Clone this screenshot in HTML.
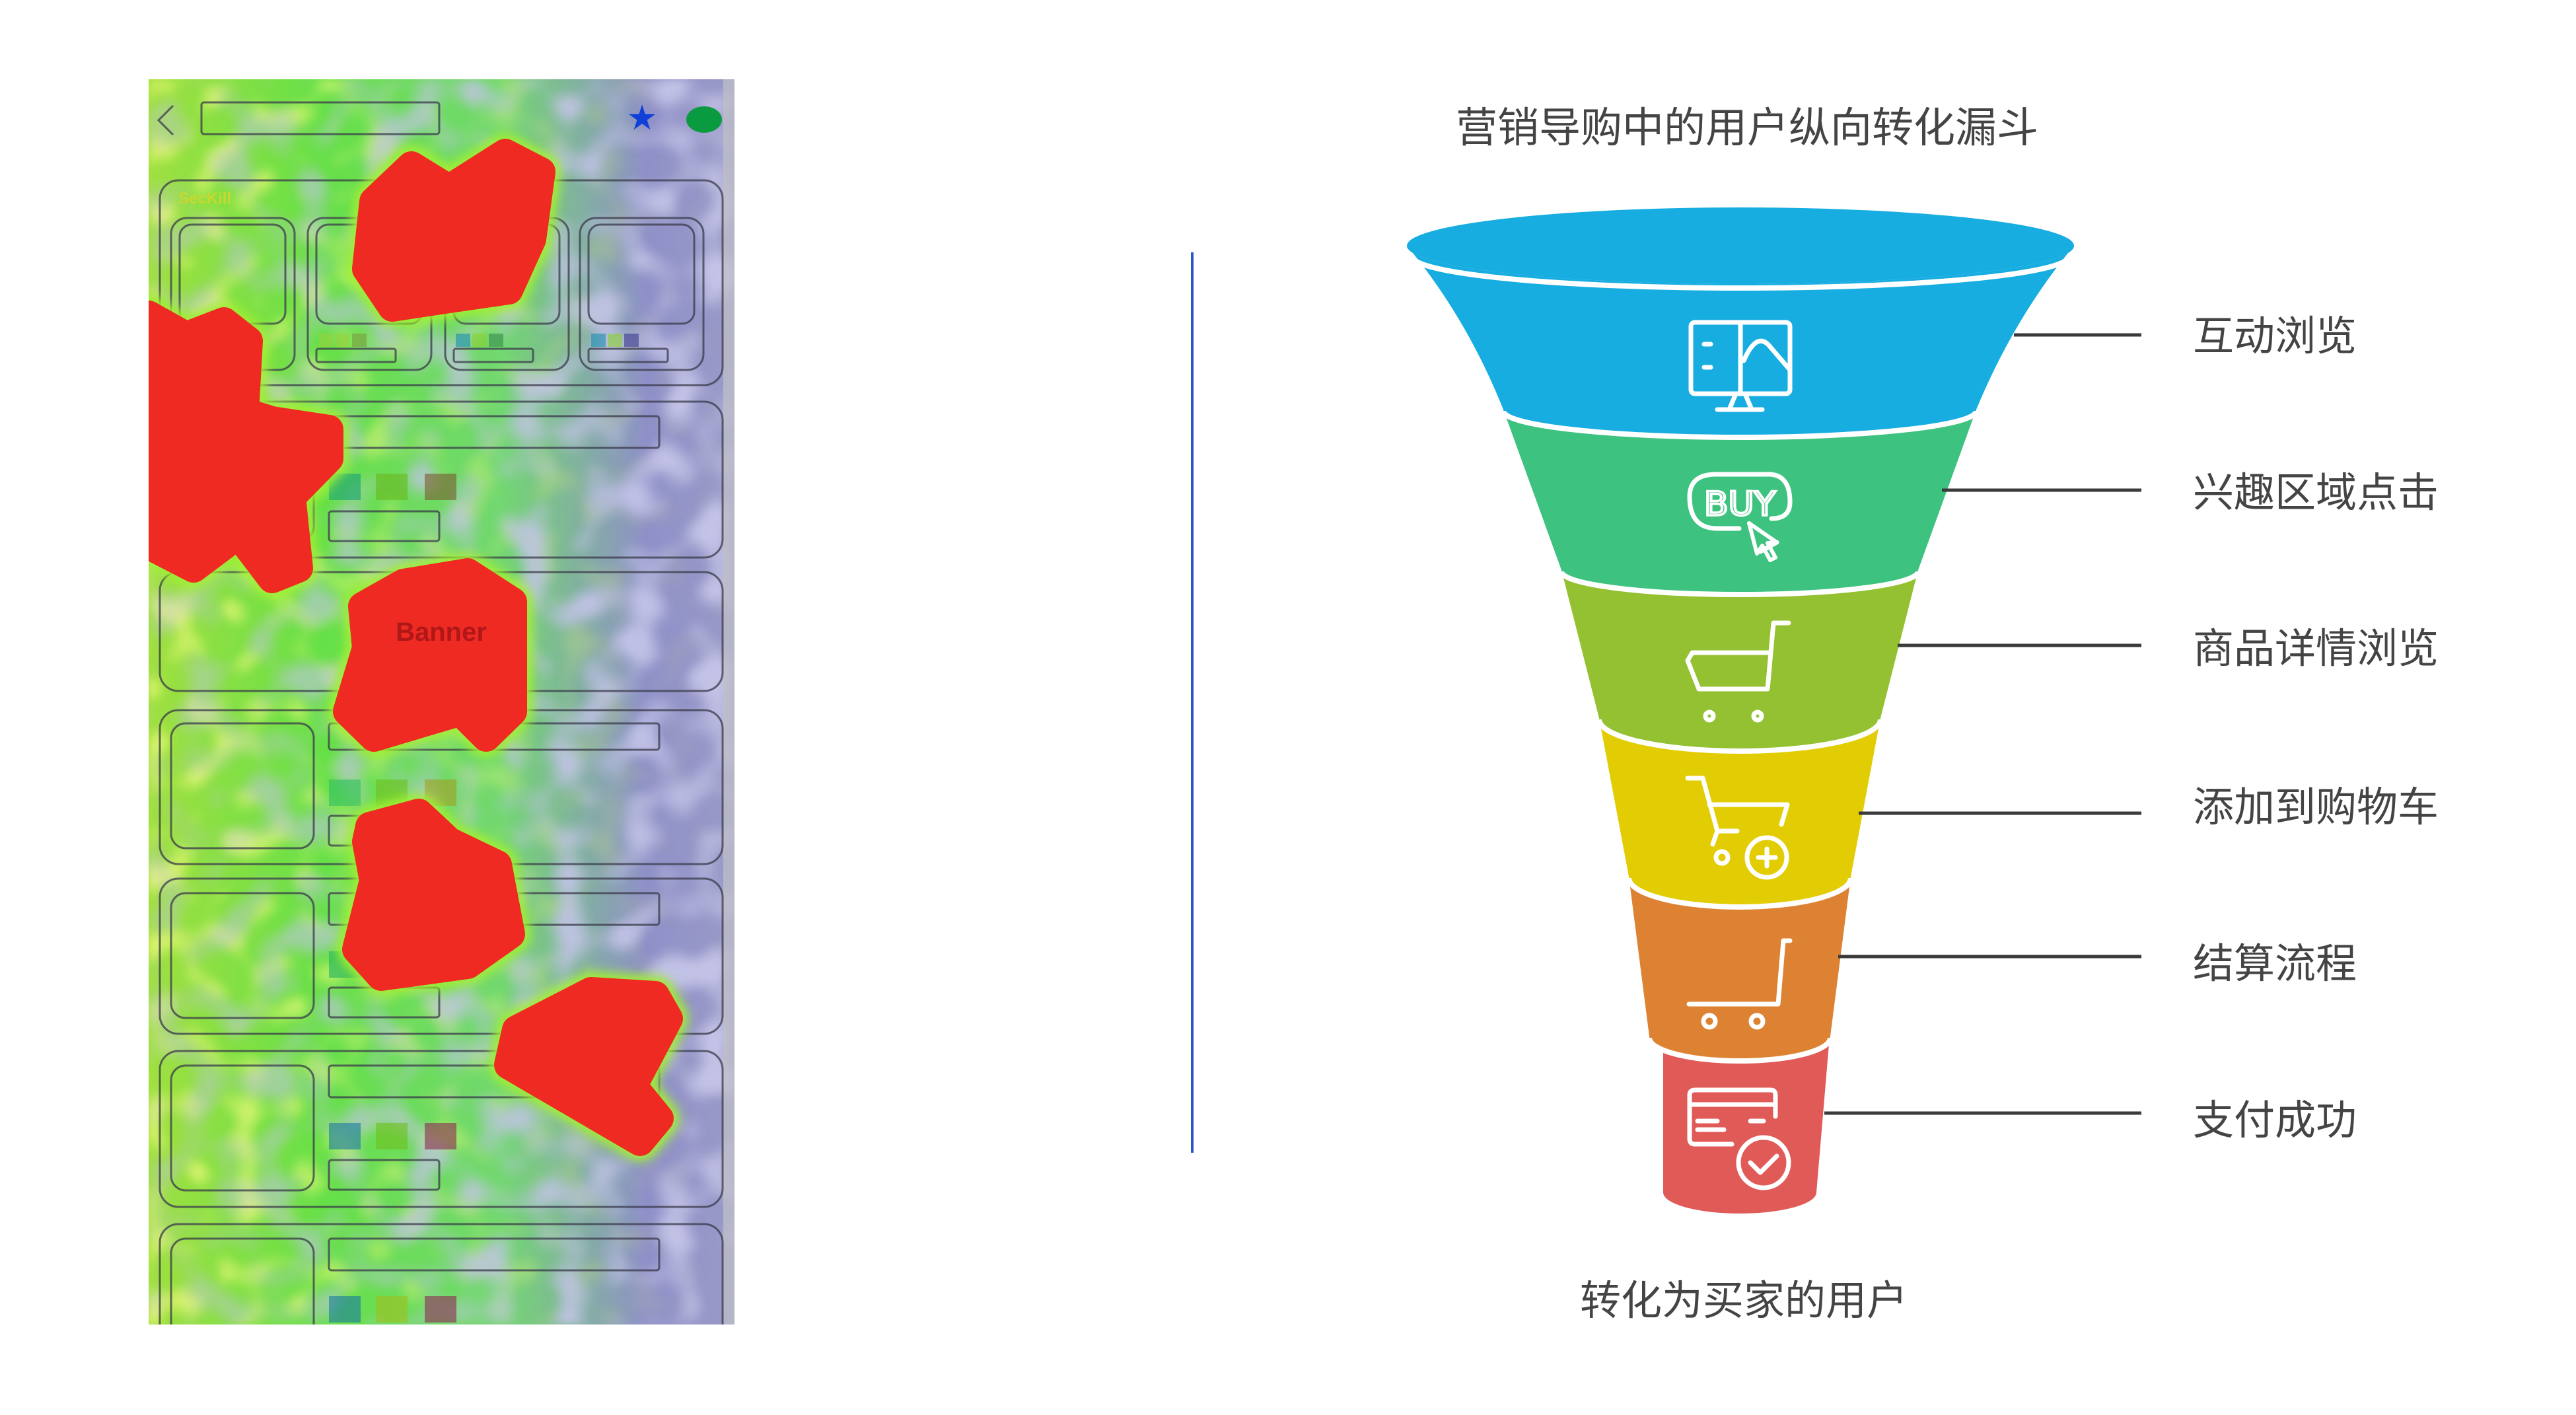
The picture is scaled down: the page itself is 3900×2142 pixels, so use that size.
<!DOCTYPE html>
<html><head><meta charset="utf-8"><style>
html,body{margin:0;padding:0;background:#fff;width:3900px;height:2142px;overflow:hidden}
svg{display:block}
</style></head><body>
<svg width="3900" height="2142" viewBox="0 0 3900 2142" xmlns="http://www.w3.org/2000/svg">
<defs>
<linearGradient id="hg" x1="0" y1="0" x2="1" y2="0">
<stop offset="0" stop-color="#a0e040"/><stop offset="0.3" stop-color="#66e048"/><stop offset="0.6" stop-color="#72d870"/><stop offset="0.85" stop-color="#8f90c8"/><stop offset="1" stop-color="#9a9ac8"/>
</linearGradient>
<linearGradient id="fade" x1="0" y1="0" x2="1" y2="0">
<stop offset="0" stop-color="#fff" stop-opacity="0.35"/><stop offset="0.5" stop-color="#fff" stop-opacity="0.75"/><stop offset="1" stop-color="#fff" stop-opacity="1"/>
</linearGradient>
<linearGradient id="fadeY" x1="0" y1="0" x2="1" y2="0">
<stop offset="0" stop-color="#fff" stop-opacity="0.9"/><stop offset="0.5" stop-color="#fff" stop-opacity="0.4"/><stop offset="1" stop-color="#fff" stop-opacity="0"/>
</linearGradient>
<mask id="mP"><rect x="225" y="120" width="887" height="1885" fill="url(#fade)"/></mask>
<mask id="mY"><rect x="225" y="120" width="887" height="1885" fill="url(#fadeY)"/></mask>
<filter id="nP" x="0" y="0" width="100%" height="100%">
<feTurbulence type="fractalNoise" baseFrequency="0.018" numOctaves="1" seed="4"/>
<feColorMatrix type="matrix" values="0 0 0 0 0.55  0 0 0 0 0.55  0 0 0 0 0.8  4 0 0 0 -1.8"/>
<feGaussianBlur stdDeviation="6"/>
</filter>
<filter id="nY" x="0" y="0" width="100%" height="100%">
<feTurbulence type="fractalNoise" baseFrequency="0.02" numOctaves="1" seed="11"/>
<feColorMatrix type="matrix" values="0 0 0 0 0.85  0 0 0 0 0.95  0 0 0 0 0.2  4 0 0 0 -2.0"/>
<feGaussianBlur stdDeviation="6"/>
</filter>
<filter id="blur"><feGaussianBlur stdDeviation="8"/></filter>
<clipPath id="hc"><rect x="225" y="120" width="887" height="1885"/></clipPath>
</defs>

<g clip-path="url(#hc)">
<rect x="225" y="120" width="887" height="1885" fill="url(#hg)"/>
<rect x="225" y="120" width="887" height="1885" filter="url(#nY)" mask="url(#mY)"/>
<rect x="225" y="120" width="887" height="1885" filter="url(#nP)" mask="url(#mP)"/>
<rect x="1095" y="120" width="17" height="1885" fill="#c0c0c8" opacity="0.7"/>

<g fill="none" stroke="#3a3a4a" stroke-width="3" opacity="0.75">
<path d="M262 160 L240 182 L262 204"/>
<rect x="305" y="155" width="360" height="48" rx="4"/>
<rect x="242" y="273" width="852" height="310" rx="28"/>
<rect x="259" y="330" width="187" height="230" rx="24"/>
<rect x="466" y="330" width="187" height="230" rx="24"/>
<rect x="674" y="330" width="187" height="230" rx="24"/>
<rect x="878" y="330" width="187" height="230" rx="24"/>
<rect x="272" y="340" width="160" height="150" rx="18"/>
<rect x="479" y="340" width="160" height="150" rx="18"/>
<rect x="687" y="340" width="160" height="150" rx="18"/>
<rect x="891" y="340" width="160" height="150" rx="18"/>
<rect x="272" y="528" width="120" height="20" rx="3"/>
<rect x="479" y="528" width="120" height="20" rx="3"/>
<rect x="687" y="528" width="120" height="20" rx="3"/>
<rect x="891" y="528" width="120" height="20" rx="3"/>
<rect x="242" y="608" width="852" height="236" rx="28"/>
<rect x="259" y="630" width="216" height="189" rx="22"/>
<rect x="498" y="630" width="500" height="48" rx="4"/>
<rect x="498" y="774" width="167" height="45" rx="4"/>
<rect x="242" y="866" width="852" height="180" rx="28"/>
<rect x="242" y="1075" width="852" height="233" rx="28"/>
<rect x="259" y="1095" width="216" height="189" rx="22"/>
<rect x="498" y="1095" width="500" height="40" rx="4"/>
<rect x="498" y="1235" width="167" height="45" rx="4"/>
<rect x="242" y="1330" width="852" height="235" rx="28"/>
<rect x="259" y="1352" width="216" height="189" rx="22"/>
<rect x="498" y="1352" width="500" height="48" rx="4"/>
<rect x="498" y="1495" width="167" height="45" rx="4"/>
<rect x="242" y="1591" width="852" height="236" rx="28"/>
<rect x="259" y="1613" width="216" height="189" rx="22"/>
<rect x="498" y="1613" width="500" height="48" rx="4"/>
<rect x="498" y="1756" width="167" height="45" rx="4"/>
<rect x="242" y="1853" width="852" height="236" rx="28"/>
<rect x="259" y="1875" width="216" height="189" rx="22"/>
<rect x="498" y="1875" width="500" height="48" rx="4"/>
</g>
<g opacity="0.6">
<rect x="498" y="717" width="48" height="40" fill="#1aa07a"/><rect x="569" y="717" width="48" height="40" fill="#6ab820"/><rect x="643" y="717" width="48" height="40" fill="#7a5a30"/>
<rect x="498" y="1180" width="48" height="40" fill="#30c060"/><rect x="569" y="1180" width="48" height="40" fill="#70c020"/><rect x="643" y="1180" width="48" height="40" fill="#a0a020"/>
<rect x="498" y="1440" width="48" height="40" fill="#20b060"/><rect x="569" y="1440" width="48" height="40" fill="#e03010"/><rect x="643" y="1440" width="48" height="40" fill="#a02030"/>
<rect x="498" y="1700" width="48" height="40" fill="#1a7aa0"/><rect x="569" y="1700" width="48" height="40" fill="#70c020"/><rect x="643" y="1700" width="48" height="40" fill="#8a2a50"/>
<rect x="498" y="1962" width="48" height="40" fill="#1a7aa0"/><rect x="569" y="1962" width="48" height="40" fill="#a0c020"/><rect x="643" y="1962" width="48" height="40" fill="#8a2a50"/>
<rect x="280" y="505" width="22" height="20" fill="#c04030"/><rect x="308" y="505" width="22" height="20" fill="#c04030"/>
<rect x="483" y="505" width="22" height="20" fill="#9ad040"/><rect x="508" y="505" width="22" height="20" fill="#9ad040"/><rect x="533" y="505" width="22" height="20" fill="#7a9a40"/>
<rect x="690" y="505" width="22" height="20" fill="#1a90b0"/><rect x="715" y="505" width="22" height="20" fill="#8ad030"/><rect x="740" y="505" width="22" height="20" fill="#3a8a50"/>
<rect x="895" y="505" width="22" height="20" fill="#1a90b0"/><rect x="920" y="505" width="22" height="20" fill="#8ad030"/><rect x="945" y="505" width="22" height="20" fill="#3a3a90"/>
</g>
<text x="270" y="308" font-family="Liberation Sans, sans-serif" font-weight="bold" font-size="24" fill="#c8d830">SecKill</text>
<text x="972" y="196" text-anchor="middle" font-family="DejaVu Sans, sans-serif" font-size="52" fill="#1040d8">★</text>
<ellipse cx="1066" cy="181" rx="27" ry="20" fill="#0a9a40"/>

<g stroke-linejoin="round">
<g fill="#f0f020" stroke="#a0f030" stroke-width="60" filter="url(#blur)">
<path d="M566 305 L623 251 L680 286 L765 232 L819 260 L805 362 L770 439 L680 452 L594 465 L555 407Z"/>
<path d="M225 477 L282 509 L339 487 L376 516 L370 624 L412 637 L498 650 L498 694 L441 752 L452 860 L412 876 L361 809 L293 860 L231 828 L228 720Z"/>
<path d="M549 918 L611 883 L708 867 L776 911 L776 1077 L736 1116 L697 1077 L566 1116 L526 1077 L555 981Z"/>
<path d="M560 1251 L634 1231 L680 1274 L753 1309 L773 1414 L708 1460 L577 1478 L540 1437 L566 1333 L555 1274Z"/>
<path d="M782 1559 L895 1501 L992 1507 L1012 1542 L958 1644 L998 1693 L969 1728 L770 1612Z"/>
</g>
<g fill="#ee2a22" stroke="#ee2a22" stroke-width="44">
<path d="M566 305 L623 251 L680 286 L765 232 L819 260 L805 362 L770 439 L680 452 L594 465 L555 407Z"/>
<path d="M225 477 L282 509 L339 487 L376 516 L370 624 L412 637 L498 650 L498 694 L441 752 L452 860 L412 876 L361 809 L293 860 L231 828 L228 720Z"/>
<path d="M549 918 L611 883 L708 867 L776 911 L776 1077 L736 1116 L697 1077 L566 1116 L526 1077 L555 981Z"/>
<path d="M560 1251 L634 1231 L680 1274 L753 1309 L773 1414 L708 1460 L577 1478 L540 1437 L566 1333 L555 1274Z"/>
<path d="M782 1559 L895 1501 L992 1507 L1012 1542 L958 1644 L998 1693 L969 1728 L770 1612Z"/>
</g>
</g>
<text x="668" y="970" text-anchor="middle" font-family="Liberation Sans, sans-serif" font-weight="bold" font-size="40" fill="#b01818">Banner</text>
</g>

<line x1="1805" y1="382" x2="1805" y2="1745" stroke="#2a55c8" stroke-width="4"/>

<text x="2645" y="215" text-anchor="middle" font-family="Liberation Sans, 'Noto Sans CJK SC', sans-serif" font-size="63" fill="#444">营销导购中的用户纵向转化漏斗</text>

<g>
<path d="M2518 1569 L2518 1805 A116 32 0 0 0 2750 1805 L2770 1569 A137 35 0 0 1 2497 1569Z" fill="#e05a58"/>
<path d="M2466 1327 L2497 1569 A137 35 0 0 0 2771 1569 L2802 1327 A168 44 0 0 1 2466 1327Z" fill="#dd8232"/>
<path d="M2421 1087 L2466 1327 A168 44 0 0 0 2802 1327 L2847 1087 A213 48 0 0 1 2421 1087Z" fill="#e2cd05"/>
<path d="M2364 863 L2421 1087 A213 48 0 0 0 2847 1087 L2904 863 A270 35 0 0 1 2364 863Z" fill="#93c131"/>
<path d="M2276 620 L2364 863 A270 35 0 0 0 2904 863 L2992 620 A358 40 0 0 1 2276 620Z" fill="#3dc27f"/>
<path d="M2130 372 Q2220 480 2276 620 A358 40 0 0 0 2992 620 Q3050 480 3140 372 A505 58 0 0 1 2130 372Z" fill="#17ade0"/>
<ellipse cx="2635" cy="372" rx="505" ry="58" fill="#17ade0"/>
<g fill="none" stroke="#fff" stroke-width="8">
<path d="M2138 388 A497 48 0 0 0 3132 388"/>
<path d="M2276 622 A358 40 0 0 0 2992 622"/>
<path d="M2364 865 A270 35 0 0 0 2904 865"/>
<path d="M2421 1089 A213 48 0 0 0 2847 1089"/>
<path d="M2466 1329 A168 44 0 0 0 2802 1329"/>
<path d="M2497 1571 A137 35 0 0 0 2771 1571"/>
</g>

<g fill="none" stroke="#fff" stroke-width="7" stroke-linecap="round" stroke-linejoin="round">
<rect x="2560" y="488" width="150" height="108" rx="6"/>
<line x1="2635" y1="488" x2="2635" y2="596"/>
<line x1="2580" y1="521" x2="2590" y2="521"/><line x1="2580" y1="556" x2="2590" y2="556"/>
<path d="M2640 546 Q2660 500 2680 525 L2710 560"/>
<path d="M2628 596 L2618 620 M2642 596 L2652 620 M2600 620 L2668 620"/>
<path d="M2665 835 L2690 821 M2682 785 Q2710 785 2710 760 Q2710 720 2680 718 L2598 718 Q2558 718 2558 752 Q2558 800 2600 800 L2633 800"/>
<path d="M2648 792 L2660 838 L2668 826 L2680 848 L2688 844 L2676 822 L2690 821 Z" stroke-width="6"/>
<path d="M2708 943 L2685 943 L2676 1043 L2572 1043 L2555 1000 L2562 988 L2680 988"/>
<circle cx="2588" cy="1084" r="6"/><circle cx="2661" cy="1084" r="6"/>
<path d="M2555 1178 L2578 1178 L2600 1258 L2630 1258 M2588 1218 L2706 1218 L2697 1248 M2600 1258 L2593 1278"/>
<circle cx="2607" cy="1298" r="9"/>
<circle cx="2675" cy="1298" r="30"/>
<path d="M2675 1285 L2675 1311 M2662 1298 L2688 1298"/>
<path d="M2710 1424 L2700 1424 L2692 1520 L2557 1520"/>
<circle cx="2588" cy="1546" r="9"/><circle cx="2660" cy="1546" r="9"/>
<path d="M2622 1732 L2566 1732 Q2558 1732 2558 1724 L2558 1658 Q2558 1650 2566 1650 L2681 1650 Q2688 1650 2688 1658 L2688 1690"/>
<line x1="2558" y1="1672" x2="2688" y2="1672"/>
<line x1="2570" y1="1697" x2="2600" y2="1697"/><line x1="2570" y1="1710" x2="2610" y2="1710"/><line x1="2650" y1="1697" x2="2670" y2="1697"/>
<circle cx="2670" cy="1760" r="38"/>
<path d="M2650 1760 L2665 1775 L2690 1750"/>
</g>
<text x="2634" y="780" text-anchor="middle" font-family="DejaVu Sans Condensed, Liberation Sans Narrow, sans-serif" font-size="50" fill="none" stroke="#fff" stroke-width="3.5" textLength="108" lengthAdjust="spacingAndGlyphs">BUY</text>
</g>

<g stroke="#3a3a3a" stroke-width="5">
<line x1="3049" y1="507" x2="3242" y2="507"/>
<line x1="2940" y1="742" x2="3242" y2="742"/>
<line x1="2873" y1="977" x2="3242" y2="977"/>
<line x1="2814" y1="1231" x2="3242" y2="1231"/>
<line x1="2783" y1="1448" x2="3242" y2="1448"/>
<line x1="2762" y1="1685" x2="3242" y2="1685"/>
</g>
<g font-family="Liberation Sans, 'Noto Sans CJK SC', sans-serif" font-size="62" fill="#444">
<text x="3320" y="530">互动浏览</text>
<text x="3320" y="767">兴趣区域点击</text>
<text x="3320" y="1003">商品详情浏览</text>
<text x="3320" y="1243">添加到购物车</text>
<text x="3320" y="1480">结算流程</text>
<text x="3320" y="1717">支付成功</text>
<text x="2640" y="1990" text-anchor="middle">转化为买家的用户</text>
</g>
</svg>
</body></html>
